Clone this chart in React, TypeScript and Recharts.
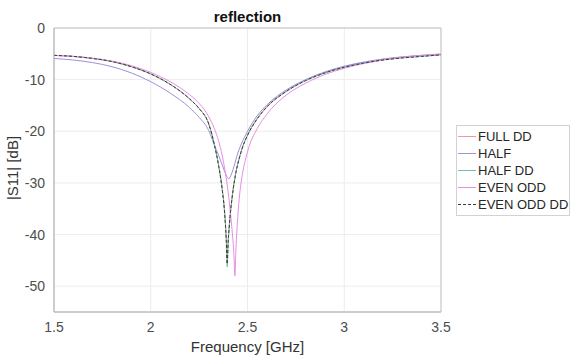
import React from 'react';
import { LineChart, Line, XAxis, YAxis, CartesianGrid, Legend, ReferenceArea } from 'recharts';

const frequencies = [1.5, 1.6, 1.7, 1.8, 1.9, 2.0, 2.1, 2.2, 2.25, 2.3, 2.33, 2.35, 2.37, 2.38, 2.39, 2.395, 2.4, 2.405, 2.41, 2.42, 2.43, 2.435, 2.44, 2.45, 2.46, 2.47, 2.5, 2.55, 2.6, 2.7, 2.8, 2.9, 3.0, 3.1, 3.2, 3.3, 3.4, 3.5];

const fullDD = [-5.3, -5.5, -5.9, -6.5, -7.5, -8.9, -10.9, -13.7, -15.6, -18.6, -22.7, -26.4, -31.3, -34.7, -40.5, -44.6, -41.3, -38.6, -36.4, -32.9, -30.1, -29.0, -27.9, -26.2, -24.8, -23.5, -20.7, -17.5, -15.2, -12.2, -10.1, -8.6, -7.5, -6.7, -6.1, -5.6, -5.3, -5.0];
const half = [-5.9, -6.2, -6.7, -7.5, -8.7, -10.4, -12.6, -15.4, -17.3, -19.9, -22.8, -24.6, -26.6, -27.6, -28.5, -28.9, -29.1, -29.2, -28.9, -28.0, -26.8, -26.2, -25.5, -24.2, -23.2, -22.3, -20.0, -17.0, -14.9, -12.0, -10.0, -8.5, -7.4, -6.6, -6.0, -5.6, -5.3, -5.1];
const halfDD = [-5.3, -5.5, -5.9, -6.5, -7.5, -8.9, -10.9, -13.7, -15.6, -18.6, -22.8, -26.5, -31.5, -35.0, -41.0, -46.3, -41.5, -38.8, -36.5, -33.0, -30.2, -29.1, -28.0, -26.3, -24.9, -23.6, -20.8, -17.6, -15.3, -12.3, -10.2, -8.7, -7.6, -6.8, -6.2, -5.8, -5.5, -5.2];
const evenOdd = [-5.3, -5.5, -5.85, -6.4, -7.3, -8.6, -10.4, -12.9, -14.6, -17.2, -19.6, -21.8, -24.8, -26.8, -29.0, -30.4, -31.8, -33.4, -35.2, -39.0, -44.0, -48.0, -43.0, -36.5, -32.0, -29.2, -24.0, -19.5, -16.7, -13.0, -10.7, -9.0, -7.8, -6.9, -6.2, -5.7, -5.4, -5.15];
const evenOddDD = [-5.3, -5.5, -5.9, -6.5, -7.5, -8.9, -10.9, -13.7, -15.6, -18.6, -22.8, -26.5, -31.5, -35.0, -41.0, -45.7, -41.5, -38.8, -36.5, -33.0, -30.2, -29.1, -28.0, -26.3, -24.9, -23.6, -20.8, -17.6, -15.3, -12.3, -10.2, -8.7, -7.6, -6.8, -6.2, -5.8, -5.5, -5.2];

const seriesNames = ['FULL DD', 'HALF', 'HALF DD', 'EVEN ODD', 'EVEN ODD DD'];
const seriesKeys = ['fullDD', 'half', 'halfDD', 'evenOdd', 'evenOddDD'];
const seriesColors = ['#e99aa6', '#9f8fdc', '#72bdb6', '#e58ee3', '#3c3c28'];
const seriesDash = [undefined, undefined, undefined, undefined, '3 2'];
const xTicks = [1.5, 2, 2.5, 3, 3.5];
const yTicks = [-50, -40, -30, -20, -10, 0];

const seriesValues = [fullDD, half, halfDD, evenOdd, evenOddDD];
const data = frequencies.map((f, i) => {
  const row: Record<string, number> = { f };
  seriesKeys.forEach((k, j) => {
    row[k] = seriesValues[j][i];
  });
  return row;
});

const FONT = '"Liberation Sans", Arial, Helvetica, sans-serif';

const renderLegend = () => (
  <div style={{ border: '1px solid #d2d2d2', background: '#fff', width: 112, padding: '2px 0', fontFamily: FONT, fontSize: 13, color: '#262626' }}>
    {seriesNames.map((name, i) => (
      <div key={name} style={{ display: 'flex', alignItems: 'center', height: 17, whiteSpace: 'nowrap' }}>
        <svg width={20} height={17} style={{ flex: 'none' }}>
          <line x1={1} x2={19} y1={8.5} y2={8.5} stroke={seriesColors[i]} strokeWidth={1} strokeDasharray={seriesDash[i]} />
        </svg>
        <span style={{ marginLeft: 1 }}>{name}</span>
      </div>
    ))}
  </div>
);

export default function App() {
  return (
    <div style={{ position: 'absolute', left: 0, top: 0, background: '#fff' }}>
      <LineChart width={570} height={360} data={data} margin={{ top: 28, right: 129, bottom: 18, left: 0 }}>
        <CartesianGrid stroke="#ececec" strokeWidth={1} />
        <XAxis
          dataKey="f"
          type="number"
          domain={[1.5, 3.5]}
          ticks={xTicks}
          height={30}
          tickLine={false}
          tickSize={6}
          tickMargin={4}
          axisLine={{ stroke: '#bdbdbd' }}
          tick={{ fill: '#4d4d4d', fontSize: 14, fontFamily: FONT }}
          tickFormatter={(v: number) => String(v)}
          label={{
            content: () => (
              <text x={247.5} y={352} textAnchor="middle" fill="#333" fontSize={15} fontFamily={FONT}>Frequency [GHz]</text>
            ),
          }}
        />
        <YAxis
          type="number"
          domain={[-55, 0]}
          ticks={yTicks}
          width={54}
          tickLine={false}
          tickSize={6}
          tickMargin={3}
          axisLine={{ stroke: '#bdbdbd' }}
          tick={{ fill: '#4d4d4d', fontSize: 14, fontFamily: FONT }}
          label={{
            content: () => (
              <text x={18} y={168} transform="rotate(-90 18 168)" textAnchor="middle" fill="#333" fontSize={15} fontFamily={FONT}>|S11| [dB]</text>
            ),
          }}
        />
        <ReferenceArea
          x1={1.5}
          x2={3.5}
          y1={-55}
          y2={0}
          fill="none"
          fillOpacity={0}
          stroke="#c4c4c4"
          strokeWidth={1}
          label={{ value: 'reflection', position: 'top', offset: 6, fill: '#111', fontSize: 15, fontWeight: 'bold', fontFamily: FONT }}
        />
        <Legend
          layout="vertical"
          align="center"
          verticalAlign="middle"
          content={renderLegend}
          wrapperStyle={{ position: 'absolute', left: 456, top: 125, width: 114, right: 'auto', bottom: 'auto' }}
        />
        {seriesKeys.map((k, i) => (
          <Line
            key={k}
            dataKey={k}
            name={seriesNames[i]}
            type="monotone"
            stroke={seriesColors[i]}
            strokeWidth={1}
            strokeDasharray={seriesDash[i]}
            dot={false}
            activeDot={false}
            isAnimationActive={false}
          />
        ))}
      </LineChart>
    </div>
  );
}
